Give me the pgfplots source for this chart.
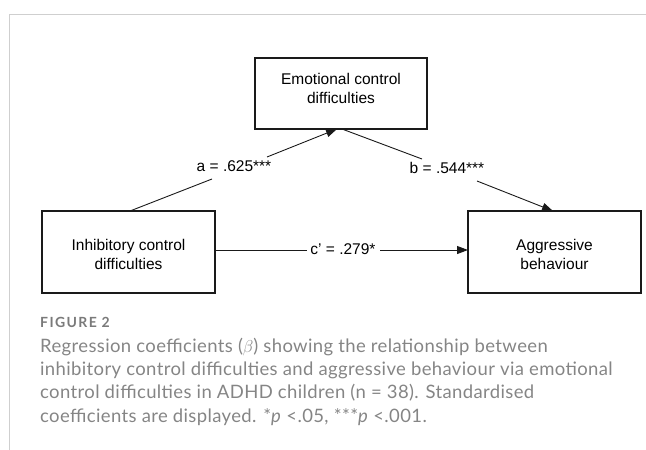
\documentclass[border=0pt]{standalone}
\usepackage{pgfplots}
\pgfplotsset{compat=1.18}
\usetikzlibrary{arrows.meta}
\usepackage{fontspec}
\setmainfont{Liberation Sans}
\newfontfamily\capfont{Lato}
\newfontfamily\figfont[LetterSpace=10]{Lato}
\newfontfamily\capbody[LetterSpace=2]{Lato}
\definecolor{boxline}{HTML}{1A1A1A}
\definecolor{capgray}{HTML}{858585}
\definecolor{figgray}{HTML}{7A7A7A}
\definecolor{framegray}{HTML}{CFCFCF}
\newcommand{\diag}{\fontsize{15.5bp}{19bp}\selectfont}
\newcommand{\capf}{\capbody\fontsize{18.5bp}{23.3bp}\selectfont}
\begin{document}
\begin{tikzpicture}
\path[use as bounding box] (0,0) rectangle (646bp,450bp);
\begin{axis}[
  at={(0,0)}, anchor=south west, scale only axis,
  width=646bp, height=450bp,
  xmin=0, xmax=646, ymin=0, ymax=450, y dir=reverse,
  hide axis, clip=false, no markers,
]
% frame
\addplot[framegray, line width=1bp] coordinates {(9,450) (9,14.5) (646,14.5)};
% boxes
\addplot[boxline, line width=1.2bp, line join=miter] coordinates {(255,58) (427,58) (427,129) (255,129)} --cycle;
\addplot[boxline, line width=1.2bp, line join=miter] coordinates {(42,211) (215,211) (215,293) (42,293)} --cycle;
\addplot[boxline, line width=1.2bp, line join=miter] coordinates {(468,211) (641,211) (641,293) (468,293)} --cycle;
% path a
\addplot[boxline, line width=0.9bp] coordinates {(130,211) (212,179)};
\addplot[boxline, line width=0.9bp, -{Triangle[length=11bp,width=8bp]}] coordinates {(267,157) (337,129)};
% path b
\addplot[boxline, line width=0.9bp] coordinates {(342,129) (422,159)};
\addplot[boxline, line width=0.9bp, -{Triangle[length=11bp,width=8bp]}] coordinates {(477,181) (553,211)};
% path c'
\addplot[boxline, line width=0.9bp] coordinates {(215,250) (307,250)};
\addplot[boxline, line width=0.9bp, -{Triangle[length=11bp,width=8bp]}] coordinates {(380,250) (468,250)};
% box texts
\node[font=\diag, anchor=base] at (axis cs:341,84.5) {Emotional control};
\node[font=\diag, anchor=base] at (axis cs:341,103.5) {difficulties};
\node[font=\diag, anchor=base] at (axis cs:128.5,250) {Inhibitory control};
\node[font=\diag, anchor=base] at (axis cs:128.5,269) {difficulties};
\node[font=\diag, anchor=base] at (axis cs:554.5,250) {Aggressive};
\node[font=\diag, anchor=base] at (axis cs:554.5,269) {behaviour};
% path labels
\node[font=\diag, anchor=base] at (axis cs:234,171) {a = .625***};
\node[font=\diag, anchor=base] at (axis cs:447,173) {b = .544***};
\node[font=\diag, anchor=base] at (axis cs:343,254.5) {c' = .279*};
% caption
\node[font=\figfont\fontsize{14bp}{16bp}\selectfont\bfseries, text=figgray, anchor=base west, inner sep=0pt] at (axis cs:40,327.3) {FIGURE 2};
\node[font=\capf, text=capgray, anchor=base west, inner sep=0pt] at (axis cs:40,352) {Regression coefficients ($\beta$) showing the relationship between};
\node[font=\capf, text=capgray, anchor=base west, inner sep=0pt] at (axis cs:40,375.3) {inhibitory control difficulties and aggressive behaviour via emotional};
\node[font=\capf, text=capgray, anchor=base west, inner sep=0pt] at (axis cs:40,398.6) {control difficulties in ADHD children (n = 38). Standardised};
\node[font=\capf, text=capgray, anchor=base west, inner sep=0pt] at (axis cs:40,422) {coefficients are displayed. *\textit{p} <.05, ***\textit{p} <.001.};
\end{axis}
\end{tikzpicture}
\end{document}
